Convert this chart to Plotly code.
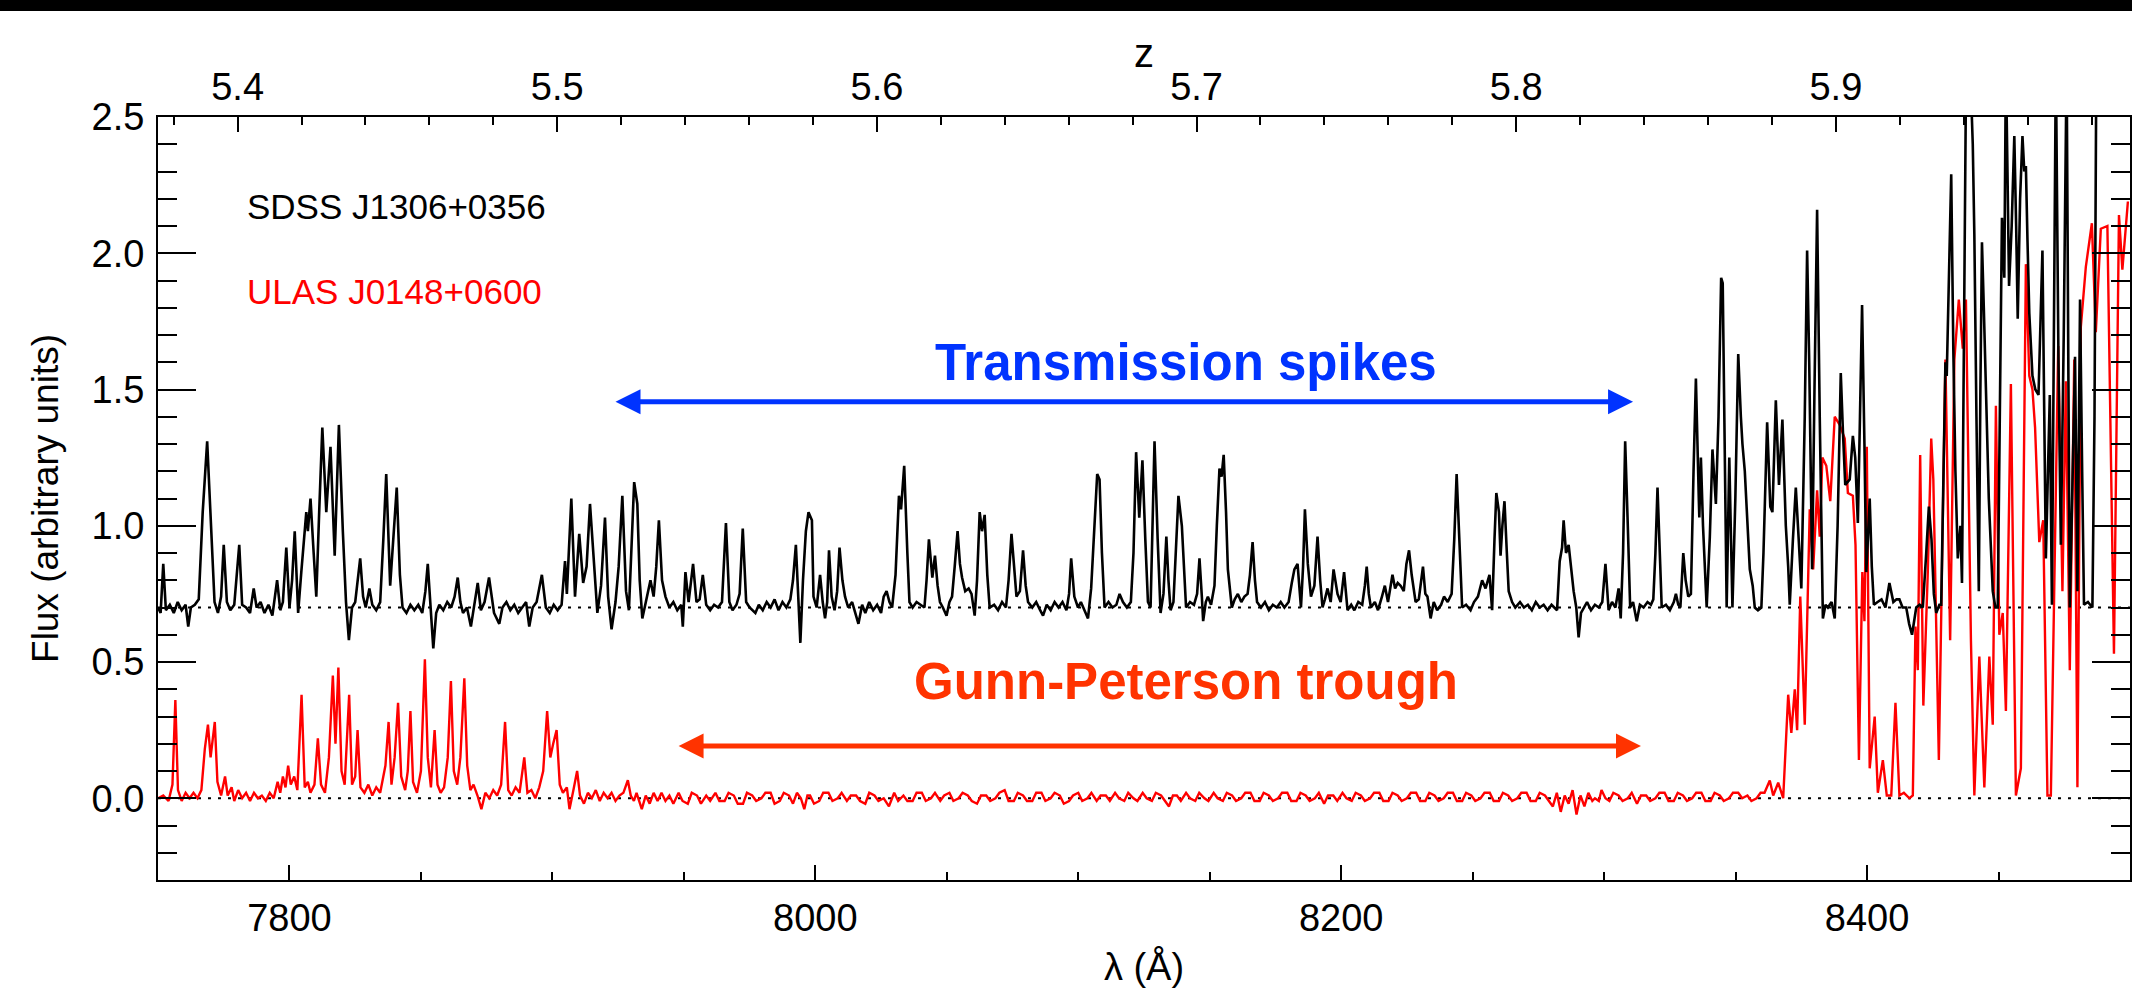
import plotly.graph_objects as go

# ---------------- data ----------------
LYA = 1215.67  # Ly-alpha rest wavelength (Angstrom), z = lambda/LYA - 1

lam_range = [7750, 8500]
flux_range = [-0.3, 2.5]
continuum_level = 0.7
zero_level = 0.0

# SDSS J1306+0356 (black) : (wavelength [A], flux)
sdss_points = [
    (7750.0, 0.70), (7751.0, 0.68), (7752.0, 0.86), (7753.0, 0.69), (7754.5, 0.71), (7756.0, 0.68),
    (7757.5, 0.72), (7759.0, 0.69), (7760.5, 0.71), (7761.5, 0.63), (7762.5, 0.70), (7764.0, 0.71),
    (7765.5, 0.73), (7767.0, 1.05), (7768.7, 1.31), (7770.3, 0.95), (7771.5, 0.72), (7772.8, 0.68),
    (7774.0, 0.74), (7775.0, 0.93), (7776.2, 0.72), (7777.5, 0.69), (7779.0, 0.71), (7780.9, 0.93),
    (7782.0, 0.71), (7783.5, 0.70), (7785.0, 0.68), (7786.4, 0.77), (7787.5, 0.70), (7789.0, 0.72),
    (7790.5, 0.68), (7792.0, 0.71), (7793.5, 0.67), (7795.3, 0.80), (7796.5, 0.69), (7797.5, 0.72),
    (7798.8, 0.92), (7800.0, 0.70), (7801.0, 0.80), (7802.0, 0.98), (7803.3, 0.68), (7804.5, 0.83),
    (7806.4, 1.05), (7807.0, 0.98), (7808.0, 1.10), (7809.2, 0.90), (7810.2, 0.74), (7811.3, 1.05),
    (7812.5, 1.36), (7814.0, 1.05), (7815.6, 1.29), (7817.2, 0.89), (7818.8, 1.37), (7820.3, 0.98),
    (7821.5, 0.72), (7822.6, 0.58), (7823.8, 0.70), (7825.0, 0.72), (7826.9, 0.88), (7828.0, 0.74),
    (7829.0, 0.70), (7830.4, 0.77), (7831.5, 0.71), (7833.0, 0.69), (7834.5, 0.72), (7835.7, 0.95),
    (7836.8, 1.19), (7838.3, 0.78), (7839.5, 0.95), (7840.8, 1.14), (7842.0, 0.82), (7843.0, 0.70),
    (7844.5, 0.68), (7846.0, 0.71), (7847.5, 0.69), (7849.0, 0.71), (7850.5, 0.68), (7851.7, 0.76),
    (7852.6, 0.86), (7853.6, 0.72), (7854.7, 0.55), (7855.8, 0.68), (7857.0, 0.71), (7858.5, 0.69),
    (7860.0, 0.72), (7861.5, 0.70), (7862.8, 0.74), (7864.0, 0.81), (7865.0, 0.72), (7866.0, 0.68),
    (7867.5, 0.70), (7869.0, 0.63), (7870.2, 0.71), (7871.6, 0.79), (7872.8, 0.69), (7874.2, 0.72),
    (7875.9, 0.81), (7877.8, 0.68), (7879.8, 0.64), (7881.0, 0.70), (7882.5, 0.72), (7884.0, 0.69),
    (7885.5, 0.71), (7887.0, 0.68), (7888.5, 0.70), (7890.0, 0.72), (7891.2, 0.63), (7892.5, 0.70),
    (7894.0, 0.72), (7896.0, 0.82), (7897.5, 0.70), (7899.0, 0.68), (7900.5, 0.71), (7902.0, 0.69),
    (7903.5, 0.71), (7904.8, 0.87), (7905.5, 0.75), (7907.2, 1.10), (7908.6, 0.74), (7910.2, 0.97),
    (7911.7, 0.79), (7913.0, 0.85), (7914.3, 1.08), (7915.5, 0.89), (7917.1, 0.68), (7918.5, 0.78),
    (7920.0, 1.03), (7921.2, 0.74), (7922.5, 0.62), (7924.0, 0.72), (7925.2, 0.85), (7926.6, 1.11),
    (7928.0, 0.76), (7929.1, 0.69), (7930.2, 0.95), (7931.1, 1.16), (7932.3, 1.08), (7933.2, 0.80),
    (7934.2, 0.66), (7935.5, 0.72), (7937.3, 0.80), (7938.5, 0.74), (7939.5, 0.85), (7940.5, 1.02),
    (7941.7, 0.80), (7943.0, 0.74), (7944.5, 0.70), (7946.0, 0.72), (7947.5, 0.69), (7949.0, 0.71),
    (7949.6, 0.63), (7950.6, 0.83), (7951.8, 0.72), (7953.5, 0.86), (7954.8, 0.72), (7956.0, 0.73),
    (7957.2, 0.82), (7958.5, 0.71), (7960.0, 0.69), (7961.5, 0.71), (7963.0, 0.70), (7964.5, 0.72),
    (7966.0, 1.01), (7967.3, 0.72), (7968.5, 0.69), (7970.0, 0.71), (7971.2, 0.75), (7972.4, 0.99),
    (7973.7, 0.72), (7975.0, 0.70), (7977.2, 0.68), (7978.5, 0.71), (7980.0, 0.69), (7981.5, 0.72),
    (7983.0, 0.70), (7984.5, 0.73), (7986.0, 0.69), (7987.5, 0.72), (7989.0, 0.70), (7990.5, 0.73),
    (7991.5, 0.80), (7992.6, 0.93), (7993.5, 0.72), (7994.3, 0.57), (7995.3, 0.80), (7996.4, 0.98),
    (7997.4, 1.05), (7998.7, 1.02), (7999.3, 0.74), (8000.5, 0.70), (8001.8, 0.82), (8002.8, 0.72),
    (8003.7, 0.66), (8004.5, 0.72), (8005.2, 0.91), (8006.2, 0.74), (8007.3, 0.69), (8008.3, 0.76),
    (8009.2, 0.92), (8010.3, 0.80), (8011.3, 0.74), (8012.5, 0.70), (8014.0, 0.72), (8015.2, 0.68),
    (8016.4, 0.64), (8017.8, 0.71), (8019.0, 0.68), (8020.5, 0.72), (8022.0, 0.69), (8023.5, 0.71),
    (8025.0, 0.68), (8026.0, 0.74), (8027.1, 0.76), (8028.2, 0.72), (8029.2, 0.70), (8030.5, 0.82),
    (8031.8, 1.11), (8032.6, 1.06), (8033.8, 1.22), (8035.0, 0.90), (8035.8, 0.72), (8037.0, 0.70),
    (8038.5, 0.72), (8040.0, 0.71), (8041.5, 0.70), (8042.3, 0.80), (8043.2, 0.95), (8044.5, 0.81),
    (8045.5, 0.89), (8046.5, 0.78), (8047.4, 0.72), (8048.5, 0.70), (8049.9, 0.67), (8051.0, 0.72),
    (8052.0, 0.74), (8053.0, 0.85), (8054.1, 0.98), (8055.0, 0.86), (8055.8, 0.81), (8057.0, 0.76),
    (8058.3, 0.77), (8059.4, 0.75), (8060.6, 0.67), (8061.5, 0.80), (8062.5, 1.05), (8063.4, 0.98),
    (8064.4, 1.04), (8065.4, 0.82), (8066.3, 0.70), (8068.0, 0.71), (8069.5, 0.69), (8071.0, 0.72),
    (8072.5, 0.70), (8073.5, 0.80), (8074.6, 0.97), (8075.6, 0.85), (8076.5, 0.74), (8077.8, 0.76),
    (8079.0, 0.91), (8080.0, 0.78), (8080.9, 0.72), (8082.5, 0.70), (8084.0, 0.72), (8085.5, 0.69),
    (8086.6, 0.67), (8088.0, 0.71), (8089.5, 0.69), (8091.0, 0.72), (8092.5, 0.70), (8094.0, 0.72),
    (8095.5, 0.69), (8096.5, 0.75), (8097.3, 0.88), (8098.5, 0.74), (8099.9, 0.70), (8101.0, 0.72),
    (8102.5, 0.69), (8103.7, 0.66), (8104.9, 0.77), (8106.0, 0.95), (8107.2, 1.19), (8108.1, 1.17),
    (8109.0, 0.90), (8110.0, 0.70), (8111.5, 0.72), (8113.0, 0.70), (8114.5, 0.71), (8115.7, 0.75),
    (8117.0, 0.72), (8118.5, 0.70), (8120.0, 0.72), (8121.0, 0.90), (8122.0, 1.27), (8123.2, 1.03),
    (8124.4, 1.24), (8125.5, 0.95), (8126.5, 0.72), (8127.5, 0.70), (8128.2, 0.95), (8129.0, 1.31),
    (8130.2, 0.95), (8131.3, 0.68), (8132.4, 0.75), (8133.5, 0.96), (8134.3, 0.80), (8135.1, 0.69),
    (8136.2, 0.72), (8137.2, 0.90), (8138.1, 1.11), (8139.4, 1.00), (8140.3, 0.82), (8141.0, 0.70),
    (8142.5, 0.72), (8144.0, 0.71), (8145.2, 0.75), (8146.1, 0.88), (8147.0, 0.74), (8147.5, 0.65),
    (8148.5, 0.72), (8149.3, 0.74), (8150.5, 0.71), (8151.8, 0.78), (8152.7, 1.00), (8153.7, 1.21),
    (8154.5, 1.18), (8155.3, 1.26), (8156.2, 1.05), (8156.9, 0.84), (8158.4, 0.70), (8159.5, 0.73),
    (8160.7, 0.75), (8162.0, 0.72), (8163.2, 0.74), (8164.4, 0.75), (8165.3, 0.82), (8166.3, 0.94),
    (8167.2, 0.80), (8168.0, 0.72), (8169.5, 0.70), (8171.0, 0.72), (8172.5, 0.69), (8174.0, 0.71),
    (8175.5, 0.70), (8177.0, 0.72), (8178.4, 0.70), (8180.0, 0.72), (8181.2, 0.79), (8182.2, 0.84),
    (8183.4, 0.86), (8184.7, 0.70), (8185.5, 0.85), (8186.2, 1.06), (8187.3, 0.86), (8188.5, 0.74),
    (8189.8, 0.78), (8191.0, 0.96), (8192.0, 0.80), (8192.9, 0.70), (8193.8, 0.73), (8194.8, 0.77),
    (8196.0, 0.72), (8197.1, 0.84), (8198.6, 0.75), (8199.8, 0.72), (8201.1, 0.83), (8202.4, 0.69),
    (8203.8, 0.71), (8205.0, 0.69), (8206.5, 0.72), (8208.0, 0.71), (8209.0, 0.78), (8209.7, 0.85),
    (8210.5, 0.75), (8211.3, 0.70), (8212.8, 0.72), (8214.0, 0.69), (8215.5, 0.74), (8216.6, 0.78),
    (8217.8, 0.72), (8219.5, 0.82), (8220.5, 0.77), (8221.5, 0.79), (8222.6, 0.78), (8223.8, 0.76),
    (8224.8, 0.86), (8225.8, 0.91), (8226.8, 0.82), (8228.3, 0.72), (8229.5, 0.73), (8230.3, 0.80),
    (8231.1, 0.85), (8232.0, 0.75), (8232.8, 0.74), (8234.0, 0.66), (8235.2, 0.72), (8236.5, 0.69),
    (8238.0, 0.71), (8239.1, 0.74), (8240.5, 0.72), (8242.0, 0.75), (8243.0, 0.95), (8243.9, 1.19),
    (8244.9, 0.92), (8246.0, 0.70), (8247.5, 0.71), (8249.2, 0.69), (8250.5, 0.72), (8252.0, 0.74),
    (8253.6, 0.80), (8254.9, 0.77), (8256.4, 0.82), (8257.4, 0.69), (8258.3, 0.95), (8259.0, 1.12),
    (8260.0, 1.05), (8260.6, 0.89), (8261.3, 1.00), (8262.1, 1.09), (8263.0, 0.90), (8263.7, 0.76),
    (8265.0, 0.72), (8266.2, 0.70), (8268.0, 0.72), (8269.5, 0.70), (8271.0, 0.71), (8272.5, 0.69),
    (8274.0, 0.72), (8275.5, 0.70), (8277.0, 0.71), (8278.5, 0.69), (8280.0, 0.71), (8282.1, 0.69),
    (8283.1, 0.87), (8284.0, 0.92), (8284.6, 1.02), (8285.5, 0.90), (8286.5, 0.93), (8287.4, 0.84),
    (8288.4, 0.76), (8289.4, 0.70), (8290.3, 0.59), (8291.2, 0.68), (8292.2, 0.70), (8293.5, 0.72),
    (8295.0, 0.69), (8296.5, 0.71), (8298.0, 0.70), (8299.3, 0.72), (8300.5, 0.86), (8301.7, 0.69),
    (8303.0, 0.72), (8304.3, 0.70), (8305.5, 0.77), (8306.3, 0.66), (8307.2, 0.90), (8308.0, 1.31),
    (8309.0, 1.00), (8309.9, 0.70), (8311.0, 0.72), (8312.4, 0.65), (8313.6, 0.71), (8315.0, 0.70),
    (8316.5, 0.72), (8317.8, 0.71), (8318.7, 0.73), (8319.5, 0.90), (8320.3, 1.14), (8321.1, 0.90),
    (8321.9, 0.70), (8323.5, 0.71), (8325.0, 0.69), (8326.5, 0.72), (8327.3, 0.75), (8328.2, 0.71),
    (8329.0, 0.70), (8330.1, 0.90), (8331.0, 0.80), (8332.0, 0.74), (8333.0, 0.75), (8334.0, 1.20),
    (8334.9, 1.54), (8336.0, 1.10), (8336.2, 1.03), (8336.8, 1.25), (8337.6, 1.00), (8339.0, 0.70),
    (8340.2, 0.96), (8341.2, 1.28), (8342.5, 1.08), (8343.5, 1.40), (8344.5, 1.91), (8345.1, 1.89),
    (8346.0, 1.20), (8346.6, 0.70), (8347.6, 1.25), (8348.8, 0.70), (8349.9, 1.10), (8351.0, 1.63),
    (8352.0, 1.40), (8352.6, 1.30), (8353.5, 1.20), (8354.5, 1.00), (8355.4, 0.84), (8356.5, 0.78),
    (8357.3, 0.70), (8358.5, 0.69), (8359.8, 0.70), (8360.6, 0.90), (8361.5, 1.26), (8362.0, 1.38),
    (8363.2, 1.07), (8364.0, 1.05), (8365.3, 1.46), (8366.5, 1.15), (8367.8, 1.39), (8369.1, 1.00),
    (8370.0, 0.85), (8370.6, 0.71), (8371.8, 0.95), (8372.9, 1.14), (8374.0, 0.95), (8375.0, 0.77),
    (8376.3, 1.40), (8377.2, 2.01), (8378.0, 1.60), (8379.1, 0.84), (8380.0, 1.50), (8381.0, 2.16),
    (8382.0, 1.40), (8383.2, 0.66), (8384.2, 0.71), (8385.1, 0.70), (8386.5, 0.72), (8387.7, 0.66),
    (8388.8, 1.00), (8390.0, 1.56), (8390.8, 1.35), (8391.7, 1.15), (8393.4, 1.17), (8394.6, 1.33),
    (8395.5, 1.25), (8396.5, 1.01), (8397.3, 1.40), (8398.1, 1.81), (8399.0, 1.30), (8399.7, 0.83),
    (8400.3, 0.95), (8401.0, 1.10), (8401.8, 0.85), (8402.6, 0.71), (8404.0, 0.72), (8405.5, 0.73),
    (8407.0, 0.70), (8408.5, 0.79), (8410.0, 0.72), (8411.2, 0.73), (8412.3, 0.73), (8413.5, 0.70),
    (8414.9, 0.70), (8416.0, 0.64), (8417.1, 0.60), (8418.0, 0.66), (8418.7, 0.70), (8420.0, 0.71),
    (8421.2, 0.70), (8422.5, 0.90), (8423.5, 1.07), (8424.5, 0.95), (8425.4, 0.75), (8426.3, 0.68),
    (8427.5, 0.71), (8428.2, 0.71), (8429.0, 1.20), (8429.8, 1.60), (8430.3, 1.55), (8431.1, 1.91),
    (8432.0, 2.29), (8432.8, 1.65), (8433.6, 1.20), (8434.5, 0.88), (8435.5, 1.00), (8436.1, 0.79),
    (8437.0, 1.80), (8437.6, 2.60), (8438.5, 2.55), (8439.5, 2.60), (8440.2, 2.40), (8440.8, 2.07),
    (8441.6, 1.40), (8442.5, 0.76), (8443.1, 1.50), (8443.7, 2.04), (8444.4, 1.80), (8445.2, 1.54),
    (8446.3, 1.10), (8447.8, 0.76), (8448.8, 0.70), (8449.7, 0.70), (8450.5, 1.40), (8451.3, 2.13),
    (8452.2, 1.91), (8452.8, 2.70), (8453.4, 2.30), (8454.0, 1.88), (8455.0, 2.10), (8456.0, 2.43),
    (8456.7, 2.10), (8457.3, 1.76), (8458.2, 2.20), (8459.1, 2.43), (8459.8, 2.30), (8460.4, 2.32),
    (8461.0, 2.05), (8461.7, 1.78), (8462.9, 1.55), (8464.0, 1.50), (8465.2, 1.48), (8466.0, 1.80),
    (8466.7, 2.01), (8467.4, 1.40), (8468.0, 0.88), (8468.8, 1.20), (8469.5, 1.48), (8470.3, 0.71),
    (8471.0, 1.60), (8471.8, 2.70), (8472.8, 1.60), (8473.7, 0.93), (8474.8, 1.70), (8475.9, 2.70),
    (8476.6, 1.50), (8477.1, 0.70), (8478.0, 1.10), (8479.1, 1.62), (8480.0, 0.76), (8480.5, 1.30),
    (8481.0, 1.83), (8481.8, 1.20), (8482.5, 0.71), (8484.0, 0.72), (8485.7, 0.70), (8486.5, 1.40),
    (8487.2, 2.70), (8490.0, 3.20), (8500.0, 3.20),
]

# ULAS J0148+0600 (red) : (wavelength [A], flux)
ulas_points = [
    (7750.0, 0.00), (7752.0, 0.01), (7754.0, -0.01), (7755.5, 0.05), (7756.6, 0.36), (7757.6, 0.03),
    (7759.0, -0.01), (7760.5, 0.02), (7762.0, 0.00), (7763.5, 0.02), (7765.0, 0.00), (7766.5, 0.03),
    (7767.8, 0.18), (7769.0, 0.27), (7770.0, 0.15), (7771.0, 0.22), (7771.6, 0.28), (7772.6, 0.06),
    (7774.0, 0.01), (7775.5, 0.08), (7776.5, 0.01), (7778.0, 0.04), (7779.0, -0.01), (7780.5, 0.03),
    (7782.0, 0.00), (7783.5, 0.02), (7785.0, -0.01), (7786.5, 0.02), (7788.0, 0.00), (7789.5, 0.01),
    (7791.0, -0.01), (7792.5, 0.02), (7794.0, 0.00), (7795.5, 0.06), (7796.5, 0.02), (7797.5, 0.08),
    (7798.5, 0.04), (7799.5, 0.12), (7800.5, 0.05), (7801.8, 0.08), (7803.0, 0.03), (7804.6, 0.38),
    (7805.8, 0.04), (7807.0, 0.06), (7808.0, 0.02), (7809.5, 0.05), (7810.8, 0.22), (7812.0, 0.05),
    (7813.5, 0.02), (7815.0, 0.15), (7816.5, 0.45), (7817.5, 0.20), (7818.6, 0.48), (7819.8, 0.10),
    (7821.0, 0.05), (7822.7, 0.38), (7823.8, 0.05), (7825.0, 0.08), (7825.9, 0.25), (7827.0, 0.04),
    (7828.5, 0.02), (7830.0, 0.05), (7831.5, 0.01), (7833.0, 0.04), (7834.5, 0.02), (7836.5, 0.12),
    (7837.7, 0.28), (7838.8, 0.05), (7840.0, 0.15), (7841.3, 0.35), (7842.5, 0.08), (7844.0, 0.03),
    (7845.0, 0.10), (7846.0, 0.32), (7847.0, 0.06), (7848.5, 0.02), (7850.0, 0.10), (7851.5, 0.51),
    (7852.6, 0.15), (7853.8, 0.04), (7855.2, 0.25), (7856.3, 0.05), (7857.5, 0.02), (7858.8, 0.04),
    (7860.2, 0.15), (7861.4, 0.43), (7862.5, 0.10), (7863.8, 0.05), (7865.0, 0.15), (7866.5, 0.44),
    (7867.6, 0.12), (7868.8, 0.03), (7870.0, 0.05), (7871.5, 0.01), (7873.0, -0.04), (7874.5, 0.02),
    (7876.0, 0.00), (7877.5, 0.03), (7879.0, 0.01), (7880.5, 0.05), (7882.0, 0.28), (7883.2, 0.03),
    (7884.5, 0.01), (7886.0, 0.04), (7887.5, 0.02), (7889.3, 0.15), (7890.5, 0.02), (7892.0, 0.03),
    (7893.5, 0.00), (7895.0, 0.04), (7896.5, 0.10), (7898.0, 0.32), (7899.2, 0.15), (7900.3, 0.20),
    (7901.6, 0.25), (7902.8, 0.05), (7904.0, 0.02), (7905.5, 0.04), (7906.5, -0.04), (7908.0, 0.03),
    (7909.4, 0.10), (7910.5, 0.01), (7912.0, -0.02), (7913.5, 0.02), (7915.0, 0.00), (7916.5, 0.03),
    (7918.0, -0.01), (7919.5, 0.02), (7921.0, 0.00), (7922.5, 0.02), (7924.0, -0.01), (7925.5, 0.01),
    (7927.0, 0.02), (7928.7, 0.066), (7929.8, 0.01), (7931.0, -0.01), (7932.0, 0.02), (7934.0, -0.04),
    (7935.5, 0.01), (7937.0, -0.02), (7938.5, 0.02), (7940.0, -0.01), (7941.5, 0.02), (7943.0, -0.01),
    (7944.5, 0.01), (7946.0, -0.02), (7948.0, 0.02), (7949.5, -0.01), (7951.5, -0.02), (7953.0, 0.02),
    (7955.0, 0.01), (7956.5, -0.02), (7958.5, 0.01), (7960.0, -0.01), (7962.0, 0.02), (7963.5, -0.01),
    (7965.5, -0.01), (7967.0, 0.02), (7969.0, 0.01), (7970.5, -0.02), (7972.5, -0.02), (7974.0, 0.02),
    (7976.0, 0.01), (7977.5, -0.01), (7979.5, 0.00), (7981.0, 0.02), (7983.0, 0.02), (7984.5, -0.02),
    (7986.5, -0.01), (7988.0, 0.02), (7990.0, 0.01), (7991.5, -0.02), (7993.0, 0.02), (7994.5, 0.00),
    (7995.8, -0.04), (7997.0, 0.01), (7998.0, 0.01), (7999.5, -0.02), (8001.5, -0.01), (8003.0, 0.02),
    (8005.0, 0.02), (8006.5, -0.01), (8008.5, 0.00), (8010.0, 0.02), (8012.0, -0.01), (8013.5, 0.01),
    (8015.5, 0.01), (8017.0, -0.01), (8019.0, -0.02), (8020.5, 0.02), (8022.5, 0.01), (8024.0, -0.01),
    (8026.0, 0.00), (8028.0, -0.03), (8030.0, 0.02), (8031.5, -0.01), (8033.5, 0.01), (8035.0, -0.01),
    (8037.0, -0.01), (8038.5, 0.02), (8040.5, 0.02), (8042.0, -0.01), (8044.0, 0.00), (8045.5, 0.02),
    (8047.5, -0.01), (8049.0, 0.01), (8051.0, 0.02), (8052.5, -0.01), (8054.5, 0.00), (8056.0, 0.02),
    (8058.0, 0.01), (8059.5, -0.01), (8061.5, -0.02), (8063.0, 0.01), (8065.0, 0.01), (8066.5, -0.01),
    (8068.5, 0.00), (8070.0, 0.02), (8072.0, 0.03), (8073.5, -0.01), (8075.5, -0.01), (8077.0, 0.02),
    (8079.0, 0.01), (8080.5, -0.01), (8082.5, -0.01), (8084.0, 0.02), (8086.0, 0.02), (8087.5, -0.01),
    (8089.5, 0.00), (8091.0, 0.02), (8093.0, 0.01), (8094.5, -0.02), (8096.5, -0.01), (8098.0, 0.01),
    (8100.0, 0.02), (8101.5, -0.01), (8103.5, 0.00), (8105.0, 0.02), (8107.0, -0.01), (8108.5, 0.01),
    (8110.5, 0.01), (8112.0, -0.01), (8114.0, 0.02), (8115.5, 0.00), (8117.5, -0.01), (8119.0, 0.02),
    (8121.0, 0.00), (8122.5, -0.01), (8124.5, 0.02), (8126.0, 0.00), (8128.0, -0.01), (8129.5, 0.02),
    (8131.5, 0.01), (8133.0, -0.01), (8134.5, -0.03), (8136.0, 0.01), (8137.5, 0.01), (8139.0, -0.01),
    (8141.0, 0.02), (8142.5, 0.00), (8144.5, -0.01), (8146.0, 0.02), (8148.0, 0.00), (8149.5, -0.01),
    (8151.5, 0.02), (8153.0, 0.00), (8155.0, -0.01), (8156.5, 0.02), (8158.5, 0.01), (8160.0, -0.01),
    (8162.0, 0.00), (8163.5, 0.02), (8165.5, 0.02), (8167.0, -0.01), (8169.0, -0.01), (8170.5, 0.02),
    (8172.5, 0.01), (8174.0, -0.01), (8176.0, 0.00), (8177.5, 0.02), (8179.5, 0.02), (8181.0, -0.01),
    (8183.0, -0.01), (8184.5, 0.02), (8186.5, 0.01), (8188.0, -0.01), (8190.0, 0.00), (8191.5, 0.02),
    (8193.5, -0.02), (8195.0, 0.01), (8197.0, 0.01), (8198.5, -0.01), (8200.5, 0.02), (8202.0, 0.00),
    (8204.0, -0.01), (8205.5, 0.02), (8207.5, 0.01), (8209.0, -0.01), (8211.0, 0.00), (8212.5, 0.02),
    (8214.5, 0.02), (8216.0, -0.01), (8218.0, -0.01), (8219.5, 0.02), (8221.5, 0.01), (8223.0, -0.01),
    (8225.0, 0.00), (8226.5, 0.02), (8228.5, 0.02), (8230.0, -0.01), (8232.0, -0.01), (8233.5, 0.02),
    (8235.5, 0.01), (8237.0, -0.01), (8239.0, 0.00), (8240.5, 0.02), (8242.5, 0.02), (8244.0, -0.01),
    (8246.0, -0.01), (8247.5, 0.02), (8249.5, 0.01), (8251.0, -0.01), (8253.0, 0.00), (8254.5, 0.02),
    (8256.5, 0.02), (8258.0, -0.01), (8260.0, -0.01), (8261.5, 0.02), (8263.5, 0.01), (8265.0, -0.01),
    (8267.0, 0.00), (8268.5, 0.02), (8270.5, 0.02), (8272.0, -0.01), (8274.0, -0.01), (8275.5, 0.02),
    (8277.5, 0.01), (8279.0, -0.01), (8280.5, -0.03), (8282.0, 0.02), (8283.5, -0.05), (8285.0, 0.01),
    (8286.5, -0.02), (8288.0, 0.03), (8289.5, -0.06), (8291.0, 0.01), (8292.5, -0.03), (8294.0, 0.02),
    (8295.5, -0.01), (8296.5, 0.00), (8298.0, -0.01), (8299.0, 0.03), (8300.5, 0.00), (8302.0, -0.01),
    (8303.5, 0.02), (8305.5, 0.01), (8307.0, -0.01), (8309.0, 0.00), (8310.5, 0.02), (8312.5, -0.02),
    (8314.0, 0.01), (8316.0, 0.01), (8317.5, -0.01), (8319.5, 0.00), (8321.0, 0.02), (8323.0, 0.02),
    (8324.5, -0.01), (8326.5, -0.01), (8328.0, 0.02), (8330.0, 0.01), (8331.5, -0.01), (8333.5, 0.00),
    (8335.0, 0.02), (8337.0, 0.02), (8338.5, -0.01), (8340.5, -0.01), (8342.0, 0.02), (8344.0, 0.01),
    (8345.5, -0.01), (8347.5, 0.00), (8349.0, 0.02), (8351.0, 0.02), (8352.5, 0.00), (8354.5, 0.01),
    (8356.0, -0.01), (8358.0, 0.00), (8359.5, 0.02), (8361.0, 0.02), (8363.0, 0.065),
    (8364.3, 0.01), (8366.2, 0.057), (8368.1, 0.00), (8370.0, 0.38), (8371.2, 0.24), (8372.5, 0.40),
    (8373.4, 0.25), (8374.6, 0.74), (8376.3, 0.27), (8378.2, 1.06), (8379.5, 0.84), (8381.0, 1.13),
    (8382.0, 0.96), (8383.0, 1.25), (8384.5, 1.22), (8386.0, 1.09), (8387.7, 1.40), (8389.6, 1.37),
    (8391.5, 1.32), (8392.7, 1.12), (8394.6, 1.11), (8395.6, 0.93), (8396.9, 0.14), (8398.2, 0.83),
    (8399.0, 0.65), (8399.9, 1.29), (8401.0, 0.11), (8402.9, 0.30), (8404.1, 0.02), (8406.0, 0.14),
    (8407.5, 0.01), (8409.2, 0.01), (8410.8, 0.35), (8412.3, 0.01), (8414.0, 0.02), (8416.1, 0.00),
    (8417.4, 0.01), (8418.4, 0.63), (8419.3, 0.47), (8420.2, 1.26), (8421.4, 0.34), (8423.1, 0.83),
    (8424.4, 1.32), (8425.2, 1.17), (8427.3, 0.14), (8429.8, 1.61), (8431.6, 0.58), (8433.2, 1.61),
    (8434.9, 1.83), (8436.4, 1.65), (8437.6, 1.83), (8439.5, 0.58), (8440.8, 0.01), (8442.7, 0.52),
    (8444.6, 0.04), (8446.5, 0.52), (8447.8, 0.27), (8449.0, 1.44), (8450.3, 0.60), (8451.6, 0.68),
    (8452.8, 0.32), (8454.7, 1.52), (8456.6, 0.01), (8458.5, 0.11), (8460.4, 1.96), (8461.7, 1.55),
    (8462.9, 1.50), (8463.9, 1.36), (8465.5, 0.94), (8467.0, 1.02), (8468.6, 0.01), (8469.9, 0.01),
    (8472.7, 1.66), (8474.3, 0.76), (8475.6, 1.53), (8477.1, 0.47), (8478.8, 1.61), (8480.0, 0.04),
    (8481.3, 1.73), (8483.2, 1.95), (8485.5, 2.11), (8487.0, 1.71), (8488.9, 2.09), (8491.4, 2.10),
    (8493.9, 0.53), (8495.8, 2.14), (8497.1, 1.94), (8499.2, 2.19),
]

sdss_lam, sdss_flux = [list(v) for v in zip(*sdss_points)]
ulas_lam, ulas_flux = [list(v) for v in zip(*ulas_points)]

z_ticks = [5.4, 5.5, 5.6, 5.7, 5.8, 5.9]

# ---------------- styling ----------------
FONT = "Liberation Sans, Arial, Helvetica, sans-serif"
BLUE = "#0033FF"
ORANGE_RED = "#FF3300"
RED = "#FF0000"

fig = go.Figure()

# dotted reference levels
for lvl in (continuum_level, zero_level):
    fig.add_trace(go.Scatter(x=lam_range, y=[lvl, lvl], mode="lines",
                             line=dict(color="black", width=2, dash="3px,7px"),
                             hoverinfo="skip", showlegend=False))

fig.add_trace(go.Scatter(x=ulas_lam, y=ulas_flux, mode="lines",
                         line=dict(color=RED, width=2.4), name="ULAS J0148+0600", showlegend=False))
fig.add_trace(go.Scatter(x=sdss_lam, y=sdss_flux, mode="lines",
                         line=dict(color="black", width=2.6), name="SDSS J1306+0356", showlegend=False))

# invisible trace to activate the redshift axis
z_range = [l / LYA - 1 for l in lam_range]
fig.add_trace(go.Scatter(x=z_range, y=[None, None], xaxis="x2", mode="lines",
                         hoverinfo="skip", showlegend=False))

axis_common = dict(showline=True, linecolor="black", linewidth=2, ticks="inside",
                   tickcolor="black", tickwidth=2, showgrid=False, zeroline=False,
                   tickfont=dict(family=FONT, size=38, color="black"))

fig.update_layout(
    width=2132, height=990,
    margin=dict(l=158, r=0, t=117, b=110, pad=0),
    paper_bgcolor="white", plot_bgcolor="white",
    font=dict(family=FONT, color="black", size=38),
    showlegend=False,
    xaxis=dict(range=lam_range, dtick=200, tick0=0, ticklen=15, mirror=False,
               minor=dict(dtick=50, tick0=0, ticks="inside", ticklen=8, tickwidth=2,
                          tickcolor="black", showgrid=False),
               ticklabelstandoff=3,
               title=dict(text="λ (Å)", font=dict(family=FONT, size=38), standoff=16),
               **axis_common),
    xaxis2=dict(range=z_range, overlaying="x", side="top", anchor="y",
                tickvals=z_ticks, ticktext=[f"{z:.1f}" for z in z_ticks], ticklen=15,
                minor=dict(dtick=0.02, tick0=0, ticks="inside", ticklen=8, tickwidth=2,
                           tickcolor="black", showgrid=False),
                ticklabelstandoff=0,
                **axis_common),
    yaxis=dict(range=flux_range, dtick=0.5, tick0=0, tickformat=".1f", ticklen=38,
               mirror="ticks",
               minor=dict(dtick=0.1, tick0=0, ticks="inside", ticklen=19, tickwidth=2,
                          tickcolor="black", showgrid=False),
               ticklabelstandoff=4,
               title=dict(text="Flux (arbitrary units)", font=dict(family=FONT, size=37), standoff=22),
               **axis_common),
)

# redshift axis title
fig.add_annotation(x=0.5, y=1.0839, xref="paper", yref="paper", text="z", showarrow=False,
                   xanchor="center", yanchor="middle", font=dict(family=FONT, size=40, color="black"))

# object labels
fig.add_annotation(x=7783, y=2.17, xref="x", yref="y", text="SDSS J1306+0356", showarrow=False,
                   xanchor="left", yanchor="middle", font=dict(family=FONT, size=35, color="black"))
fig.add_annotation(x=7783, y=1.86, xref="x", yref="y", text="ULAS J0148+0600", showarrow=False,
                   xanchor="left", yanchor="middle", font=dict(family=FONT, size=35, color=RED))

# region labels
fig.add_annotation(x=8141, y=1.60, xref="x", yref="y", text="<b>Transmission spikes</b>", showarrow=False,
                   xanchor="center", yanchor="middle", font=dict(family=FONT, size=51, color=BLUE))
fig.add_annotation(x=8141, y=0.43, xref="x", yref="y", text="<b>Gunn-Peterson trough</b>", showarrow=False,
                   xanchor="center", yanchor="middle", font=dict(family=FONT, size=51, color=ORANGE_RED))

# double-headed arrows
def double_arrow(x_left, x_right, y, color, head_len=9.5, head_half=0.046, width=5):
    fig.add_shape(type="line", xref="x", yref="y", x0=x_left + head_len * 0.8, x1=x_right - head_len * 0.8,
                  y0=y, y1=y, line=dict(color=color, width=width))
    fig.add_shape(type="path", xref="x", yref="y",
                  path=f"M {x_left},{y} L {x_left + head_len},{y + head_half} L {x_left + head_len},{y - head_half} Z",
                  fillcolor=color, line=dict(width=0))
    fig.add_shape(type="path", xref="x", yref="y",
                  path=f"M {x_right},{y} L {x_right - head_len},{y + head_half} L {x_right - head_len},{y - head_half} Z",
                  fillcolor=color, line=dict(width=0))

double_arrow(7924, 8311, 1.455, BLUE)
double_arrow(7948, 8314, 0.192, ORANGE_RED)

# black strip at the very top of the image
fig.add_shape(type="rect", xref="paper", yref="paper", x0=-0.2, x1=1.2, y0=1.139, y1=1.25,
              fillcolor="black", line=dict(width=0), layer="above")

fig.write_html("out.html")
